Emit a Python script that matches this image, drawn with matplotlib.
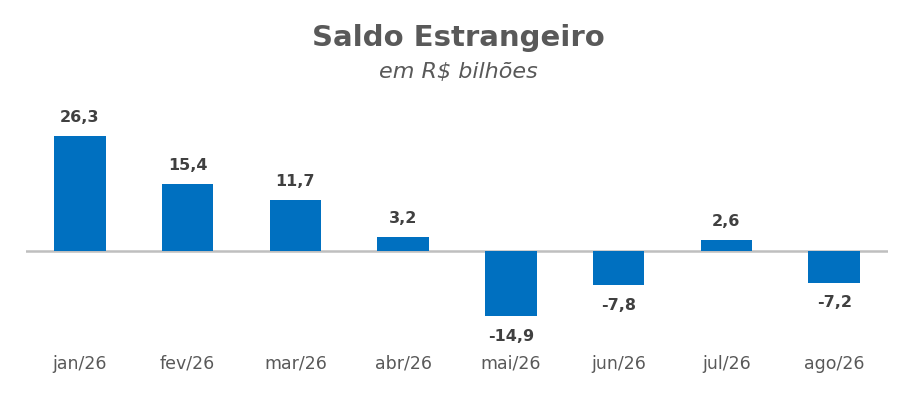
import matplotlib.pyplot as plt
import numpy as np

meses = ['jan/26', 'fev/26', 'mar/26', 'abr/26', 'mai/26', 'jun/26', 'jul/26', 'ago/26']
saldo = [26.3, 15.4, 11.7, 3.2, -14.9, -7.8, 2.6, -7.2]

azul = '#0070C0'
cinza = '#595959'

fig = plt.figure(figsize=(9.16, 4.01), dpi=100)
# axes placed in pixel terms: x 26..888, y 110..345 (from top)
ax = fig.add_axes([26/916, 1-345/401, (888-26)/916, (345-110)/401])

x = np.arange(len(meses))
ax.bar(x, saldo, width=0.48, color=azul, zorder=2)
ax.axhline(0, color='#BFBFBF', lw=1.8, zorder=1)

ax.set_xlim(-0.5, len(meses)-0.5)
ax.set_ylim(-21.5, 32.3)

for xi, v in zip(x, saldo):
    txt = f'{v:.1f}'.replace('.', ',')
    if v >= 0:
        ax.annotate(txt, (xi, v), xytext=(0, 8), textcoords='offset points',
                    ha='center', va='bottom', fontsize=11.5, fontweight='bold', color='#404040')
    else:
        ax.annotate(txt, (xi, v), xytext=(0, -9), textcoords='offset points',
                    ha='center', va='top', fontsize=11.5, fontweight='bold', color='#404040')

ax.set_xticks(x)
ax.set_xticklabels(meses, fontsize=12.5, color=cinza)
ax.tick_params(axis='x', length=0, pad=7)
ax.set_yticks([])
for s in ax.spines.values():
    s.set_visible(False)

fig.text(0.5, 1-38/401, 'Saldo Estrangeiro', ha='center', va='center',
         fontsize=21, fontweight='bold', color=cinza)
fig.text(0.5, 1-72/401, 'em R$ bilhões', ha='center', va='center',
         fontsize=16, style='italic', color=cinza)

fig.savefig('out.png', dpi=100)
